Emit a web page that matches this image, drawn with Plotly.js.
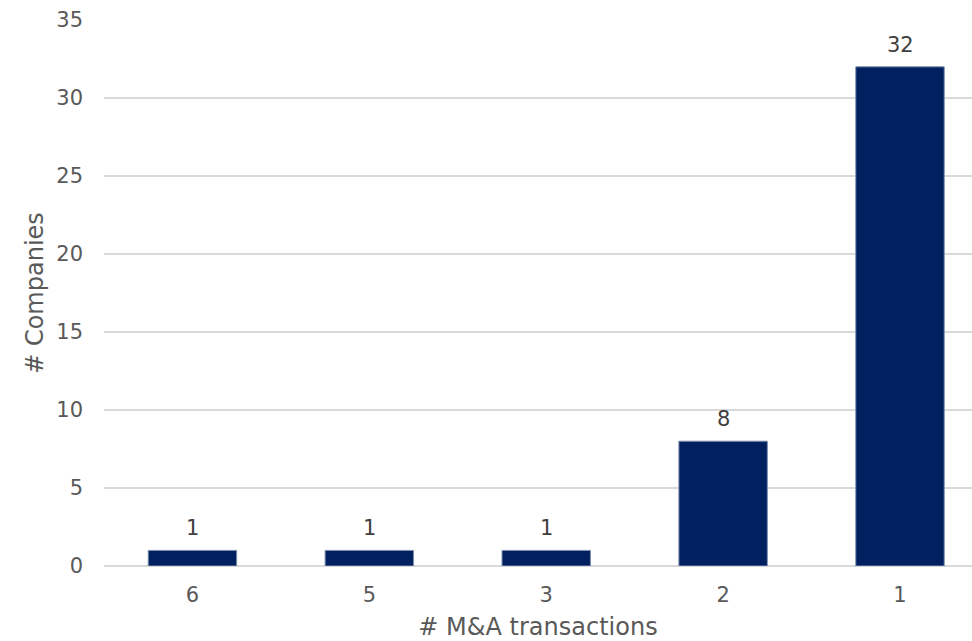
<!DOCTYPE html>
<html>
<head>
<meta charset="utf-8">
<script src="https://cdn.plot.ly/plotly-3.0.1.min.js"></script>
<style>html,body{margin:0;padding:0;background:#fff;}#chart{width:972px;height:641px;}</style>
</head>
<body>
<div id="chart"></div>
<script>
const categories = ["6", "5", "3", "2", "1"];
const companies = [1, 1, 1, 8, 32];
const xTitle = "# M&A transactions";
const yTitle = "# Companies";

const fontFam = "Verdana, 'DejaVu Sans', sans-serif";
const grey = "#595959";

// category axis: annotation x given as category index
const labels = categories.map((c, i) => ({
  x: i, y: companies[i], xref: "x", yref: "y",
  text: String(companies[i]), showarrow: false,
  yanchor: "bottom", yshift: 8,
  font: {family: fontFam, size: 21, color: "#404040"}
}));

Plotly.newPlot("chart", [{
  type: "bar",
  x: categories,
  y: companies,
  marker: {color: "#002060", line: {color: "#7f8fb0", width: 1}},
  hoverinfo: "none"
}], {
  width: 972, height: 641,
  margin: {l: 104, r: 0, t: 20, b: 75},
  paper_bgcolor: "#ffffff", plot_bgcolor: "#ffffff",
  bargap: 0.5,
  showlegend: false,
  annotations: labels,
  font: {family: fontFam, size: 21, color: grey},
  xaxis: {
    type: "category",
    range: [-0.5, 4.407],
    showgrid: false,
    ticks: "", ticklen: 0,
    ticklabelstandoff: 14,
    tickfont: {family: fontFam, size: 21, color: grey},
    title: {text: xTitle, font: {family: fontFam, size: 24, color: grey}, standoff: 14},
    showline: false, zeroline: false
  },
  yaxis: {
    range: [0, 35],
    dtick: 5, tick0: 0,
    showgrid: true, gridcolor: "#d9d9d9", gridwidth: 1.5,
    zeroline: true, zerolinecolor: "#d9d9d9", zerolinewidth: 1.5,
    ticks: "", ticklabelstandoff: 20,
    tickfont: {family: fontFam, size: 21, color: grey},
    title: {text: yTitle, font: {family: fontFam, size: 24, color: grey}, standoff: 5},
    showline: false
  }
}, {staticPlot: true});
</script>
</body>
</html>
